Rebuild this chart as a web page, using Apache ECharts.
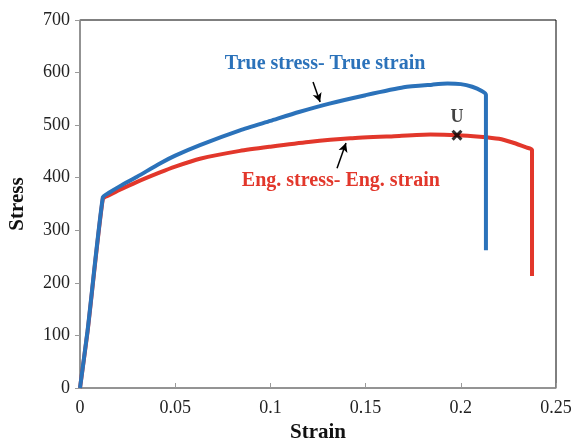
<!DOCTYPE html>
<html><head><meta charset="utf-8">
<script src="https://cdn.jsdelivr.net/npm/echarts@6/dist/echarts.min.js"></script>
<style>html,body{margin:0;padding:0;background:#fff}#c{width:573px;height:441px}</style>
</head><body><div id="c"></div>
<script>
// True stress - true strain curve
const trueStrain = [0, 0.004, 0.012, 0.015, 0.021, 0.03, 0.042, 0.05, 0.063, 0.084, 0.1, 0.115, 0.131, 0.15, 0.17, 0.185, 0.193, 0.2, 0.206, 0.211, 0.2132, 0.2132];
const trueStress = [0, 110, 363, 371, 384, 402, 427, 442, 462, 490, 508, 525, 541, 557, 572, 577, 579, 578, 573, 565, 558, 262];
// Engineering stress - engineering strain curve
const engStrain = [0, 0.004, 0.012, 0.015, 0.021, 0.03, 0.042, 0.05, 0.063, 0.084, 0.1, 0.12, 0.142, 0.165, 0.184, 0.198, 0.21, 0.22, 0.228, 0.234, 0.2374, 0.2374];
const engStress = [0, 108, 360, 366, 377, 392, 410, 421, 436, 451, 459, 468, 475, 479, 482, 481, 478, 474, 466, 458, 453, 213];
// Ultimate point U
const uStrain = [0.198];
const uStress = [481];
const xTicks = [0, 0.05, 0.1, 0.15, 0.2, 0.25];
const yTicks = [0, 100, 200, 300, 400, 500, 600, 700];

const BLUE = '#2b72ba', RED = '#e2372b';
const zip = (a, b) => a.map((v, i) => [v, b[i]]);
const serif = '"Liberation Serif","Times New Roman",serif';

const chart = echarts.init(document.getElementById('c'), null, {renderer: 'canvas'});
const option = {
  animation: false,
  backgroundColor: '#fff',
  grid: {left: 80, top: 20, right: 17, bottom: 53, show: true, borderColor: '#000', borderWidth: 1,
    containLabel: false, outerBoundsMode: 'none'},
  xAxis: {
    type: 'value', min: xTicks[0], max: xTicks[xTicks.length - 1], interval: 0.05,
    name: 'Strain', nameLocation: 'middle', nameGap: 34,
    nameTextStyle: {fontFamily: serif, fontWeight: 'bold', fontSize: 21, color: '#111'},
    axisLine: {show: true, lineStyle: {color: '#9a9a9a', width: 1.5}},
    axisTick: {show: true, inside: true, length: 5, lineStyle: {color: '#9a9a9a'}},
    axisLabel: {fontFamily: serif, fontSize: 18, color: '#222', margin: 11,
      formatter: v => String(+v.toFixed(2))},
    splitLine: {show: false}
  },
  yAxis: {
    type: 'value', min: yTicks[0], max: yTicks[yTicks.length - 1], interval: 100,
    name: 'Stress', nameLocation: 'middle', nameGap: 52,
    nameTextStyle: {fontFamily: serif, fontWeight: 'bold', fontSize: 21, color: '#111'},
    axisLine: {show: true, lineStyle: {color: '#9a9a9a', width: 1.5}},
    axisTick: {show: true, inside: false, length: 5, lineStyle: {color: '#9a9a9a'}},
    axisLabel: {fontFamily: serif, fontSize: 18, color: '#222', margin: 10},
    splitLine: {show: false}
  },
  series: [
    {type: 'line', data: zip(engStrain, engStress), showSymbol: false, smooth: 0.2,
      lineStyle: {color: RED, width: 4}, z: 2,
      markLine: {silent: true, symbol: ['none', 'arrow'], symbolSize: [7, 9],
        lineStyle: {color: '#000', width: 1.5, type: 'solid'}, label: {show: false},
        data: [[{coord: [0.135, 418]}, {coord: [0.1397, 466]}]]}},
    {type: 'line', data: zip(trueStrain, trueStress), showSymbol: false, smooth: 0.2,
      lineStyle: {color: BLUE, width: 4}, z: 3,
      markLine: {silent: true, symbol: ['none', 'arrow'], symbolSize: [7, 9],
        lineStyle: {color: '#000', width: 1.5, type: 'solid'}, label: {show: false},
        data: [[{coord: [0.1224, 582]}, {coord: [0.1261, 544]}]]}},
    {type: 'scatter', data: zip(uStrain, uStress), z: 5,
      symbol: 'path://M0,2 L2,0 L5,3 L8,0 L10,2 L7,5 L10,8 L8,10 L5,7 L2,10 L0,8 L3,5 Z',
      symbolSize: 11, itemStyle: {color: '#000'},
      label: {show: true, position: 'top', distance: 3, formatter: 'U',
        fontFamily: serif, fontWeight: 'bold', fontSize: 18, color: '#111'}}
  ]
};
chart.setOption(option);
const p1 = chart.convertToPixel({gridIndex: 0}, [0.1287, 617]);
const p2 = chart.convertToPixel({gridIndex: 0}, [0.137, 394]);
chart.setOption({graphic: [
  {type: 'text', x: p1[0], y: p1[1], z: 10, style: {text: 'True stress- True strain', fill: BLUE,
    font: 'bold 20px ' + serif, align: 'center', verticalAlign: 'middle'}},
  {type: 'text', x: p2[0], y: p2[1], z: 10, style: {text: 'Eng. stress- Eng. strain', fill: RED,
    font: 'bold 20px ' + serif, align: 'center', verticalAlign: 'middle'}}
]});
</script></body></html>
